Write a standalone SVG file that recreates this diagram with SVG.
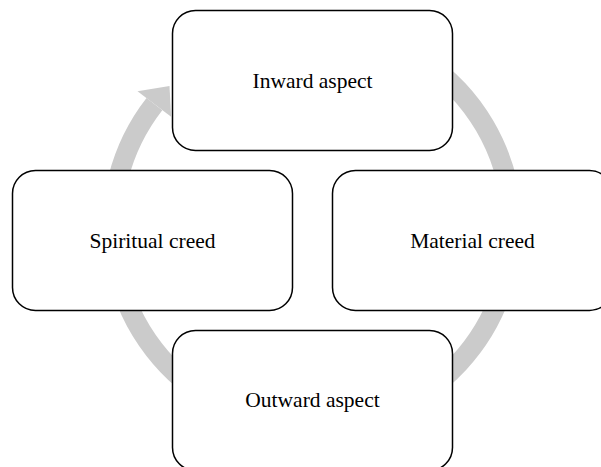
<svg xmlns="http://www.w3.org/2000/svg" width="601" height="467" viewBox="0 0 601 467">
  <style>
    .box { fill: #ffffff; stroke: #000000; stroke-width: 1.5; }
    .label { font-family: "Liberation Serif", "Times New Roman", serif; font-size: 21.5px; fill: #000000; text-anchor: middle; }
    .ring { fill: none; stroke: #cbcbcb; stroke-width: 20; }
    .ring-head { fill: #cbcbcb; }
  </style>
  <rect width="601" height="467" fill="#ffffff"/>

  <!-- circular flow arrow running clockwise behind the boxes -->
  <g id="connectors">
    <path class="ring" d="M 346.7 30 A 200 200 0 1 1 154.4 104.1"/>
    <polygon class="ring-head" points="137.5,91.2 169.5,86 171.1,116.8"/>
  </g>

  <g id="node-inward">
    <rect class="box" x="172.5" y="10.5" width="280" height="140" rx="23" ry="23"/>
    <text class="label" x="312.5" y="88.3">Inward aspect</text>
  </g>
  <g id="node-spiritual">
    <rect class="box" x="12.5" y="170.5" width="280" height="140" rx="23" ry="23"/>
    <text class="label" x="152.5" y="247.5">Spiritual creed</text>
  </g>
  <g id="node-material">
    <rect class="box" x="332.5" y="170.5" width="280" height="140" rx="23" ry="23"/>
    <text class="label" x="472.5" y="247.5">Material creed</text>
  </g>
  <g id="node-outward">
    <rect class="box" x="172.5" y="330.5" width="280" height="140" rx="23" ry="23"/>
    <text class="label" x="312.5" y="407">Outward aspect</text>
  </g>
</svg>
